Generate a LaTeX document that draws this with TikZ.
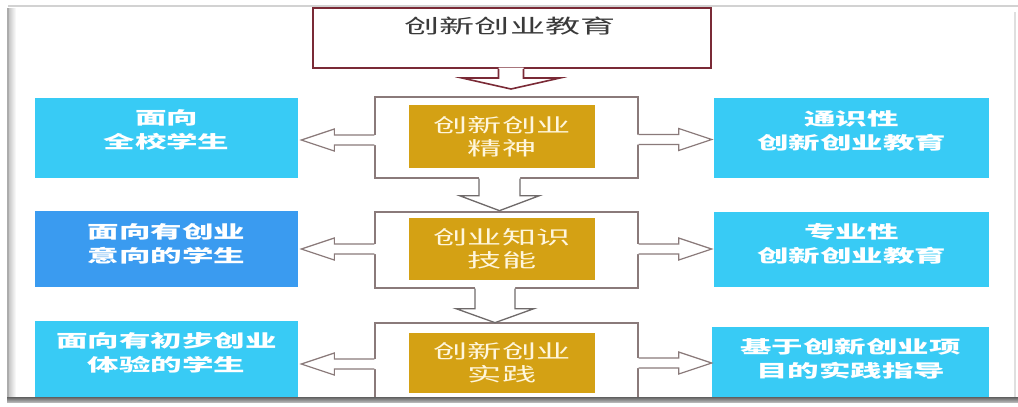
\documentclass[tikz,border=0pt]{standalone}
\usepackage{fontspec}
\newfontfamily\cjk[FakeStretch=1.8]{Noto Sans CJK SC}
\usetikzlibrary{calc}
\definecolor{cyanB}{HTML}{38CBF5}
\definecolor{blueB}{HTML}{3A9BF0}
\definecolor{goldB}{HTML}{D4A114}
\definecolor{maroonC}{HTML}{7A2A36}
\definecolor{frameC}{HTML}{8A7A7A}
\definecolor{arrC}{HTML}{6F6A6A}
\definecolor{goldT}{HTML}{FFF6DC}
\definecolor{topT}{HTML}{3A3A3A}
\tikzset{
  sidebox/.style={inner sep=0pt, minimum height=#1},
  cyanbox/.style={sidebox=80pt, fill=cyanB},
  bluebox/.style={sidebox=76pt, fill=blueB},
  midframe/.style={draw=frameC, line width=1.3pt, fill=white, inner sep=0pt, minimum width=263pt},
  goldbox/.style={fill=goldB, inner sep=0pt, minimum width=186pt},
  btext/.style={font=\cjk\bfseries\fontsize{17.5pt}{24pt}\selectfont, text=white, align=center, inner sep=0pt},
  gtext/.style={font=\cjk\fontsize{19pt}{23pt}\selectfont, text=goldT, align=center, inner sep=0pt},
  ttext/.style={font=\cjk\fontsize{19.5pt}{24pt}\selectfont, text=topT, inner sep=0pt},
  sidearr/.style={draw=frameC, line width=1.2pt, line join=miter},
  downarr/.style={draw=arrC, line width=1.3pt, line join=miter},
}
% #1 anchor, #2 direction (+1 right / -1 left), #3 y offset (down positive)
\newcommand\sidearrow[3]{%
  \fill[white] ($(#1)+(-#2*1.5,#3-5)$) -- ($(#1)+(#2*40,#3-5)$) -- ($(#1)+(#2*40,#3-11)$)
     -- ($(#1)+(#2*73,#3)$) -- ($(#1)+(#2*40,#3+11)$) -- ($(#1)+(#2*40,#3+5)$)
     -- ($(#1)+(-#2*1.5,#3+5)$) -- cycle;
  \draw[sidearr] ($(#1)+(0,#3-5)$) -- ($(#1)+(#2*40,#3-5)$) -- ($(#1)+(#2*40,#3-11)$)
     -- ($(#1)+(#2*73,#3)$) -- ($(#1)+(#2*40,#3+11)$) -- ($(#1)+(#2*40,#3+5)$)
     -- ($(#1)+(0,#3+5)$);}
% #1 anchor, #2 x offset, #3 stem half, #4 stem length, #5 head half, #6 total length, #7 style
\newcommand\blockdown[7]{%
  \fill[white] ($(#1)+(#2-#3,-1.5)$) -- ($(#1)+(#2-#3,#4)$) -- ($(#1)+(#2-#5,#4)$)
     -- ($(#1)+(#2,#6)$) -- ($(#1)+(#2+#5,#4)$) -- ($(#1)+(#2+#3,#4)$)
     -- ($(#1)+(#2+#3,-1.5)$) -- cycle;
  \draw[#7] ($(#1)+(#2-#3,0)$) -- ($(#1)+(#2-#3,#4)$) -- ($(#1)+(#2-#5,#4)$)
     -- ($(#1)+(#2,#6)$) -- ($(#1)+(#2+#5,#4)$) -- ($(#1)+(#2+#3,#4)$)
     -- ($(#1)+(#2+#3,0)$);}
\begin{document}
\begin{tikzpicture}[x=1pt,y=-1pt]
\useasboundingbox (0,0) rectangle (1018,407);
\fill[white] (0,0) rectangle (1018,407);
% outer frame
\draw[gray!35, line width=1.5pt] (8,6) -- (1018,6);
\shade[left color=gray!55, right color=white] (7,8) rectangle (16,402);
\draw[gray!65, line width=2pt] (8,8) -- (8,402);
\draw[gray!25, line width=1.5pt] (1015,12) -- (1015,398);

% side boxes
\node[cyanbox, minimum width=263pt] (l1) at (166.5,138) {};
\node[bluebox, minimum width=263pt] (l2) at (166.5,249) {};
\node[cyanbox, minimum width=263pt] (l3) at (166.5,361) {};
\node[cyanbox, minimum width=275pt] (r1) at (851.5,138) {};
\node[cyanbox, minimum width=275pt, minimum height=75pt] (r2) at (851.5,249.5) {};
\node[cyanbox, minimum width=277pt, minimum height=74pt] (r3) at (850.5,363.5) {};
\node[btext] at ([yshift=8pt]l1.center) {面向\\全校学生};
\node[btext] at ([yshift=5pt]l2.center) {面向有创业\\意向的学生};
\node[btext] at ([yshift=8pt]l3.center) {面向有初步创业\\体验的学生};
\node[btext] at ([yshift=7pt]r1.center) {通识性\\创新创业教育};
\node[btext] at ([yshift=6pt]r2.center) {专业性\\创新创业教育};
\node[btext] at ([yshift=5pt]r3.center) {基于创新创业项\\目的实践指导};

% middle frames
\node[midframe, minimum height=81pt] (m1) at (506.5,137.5) {};
\node[midframe, minimum height=76pt] (m2) at (506.5,250) {};
\node[midframe, minimum height=82pt] (m3) at (506.5,364) {};
\node[goldbox, minimum height=63pt] (g1) at (502,136.5) {};
\node[goldbox, minimum height=62pt] (g2) at (502,249) {};
\node[goldbox, minimum height=60pt] (g3) at (502,363) {};
\node[gtext] at (g1.center) {创新创业\\精神};
\node[gtext] at (g2.center) {创业知识\\技能};
\node[gtext] at (g3.center) {创新创业\\实践};

% top box
\node[draw=maroonC, line width=2pt, fill=white, inner sep=0pt, minimum width=398pt, minimum height=60pt] (top) at (512,38) {};
\node[ttext] (toptitle) at ([xshift=-2pt,yshift=-19pt]top.north) {创新创业教育};

% vertical arrows
\blockdown{top.south}{-1}{12.5}{9}{49}{20}{draw=maroonC, line width=1.6pt, line join=miter}
\blockdown{m1.south}{-7}{20.5}{17}{40}{32}{downarr}
\blockdown{m2.south}{-11.5}{20}{20}{39}{34}{downarr}

% side arrows
\sidearrow{m1.west}{-1}{2.5}
\sidearrow{m1.east}{1}{2}
\sidearrow{m2.west}{-1}{-1}
\sidearrow{m2.east}{1}{-1}
\sidearrow{m3.west}{-1}{0}
\sidearrow{m3.east}{1}{-1}

% bottom band of frame
\shade[top color=gray!75!black, bottom color=gray!45] (7,397) rectangle (1018,403);
\fill[white] (0,403) rectangle (1018,407);
\end{tikzpicture}
\end{document}
